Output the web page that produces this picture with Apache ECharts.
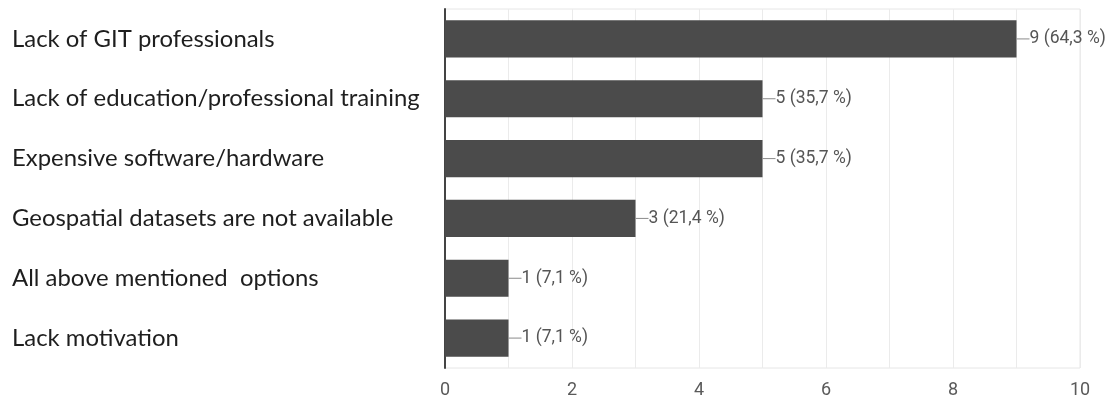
<!DOCTYPE html>
<html>
<head>
<meta charset="utf-8">
<script src="https://cdn.jsdelivr.net/npm/echarts@6/dist/echarts.min.js"></script>
<style>
  html, body { margin: 0; padding: 0; background: #fff; }
  #chart { width: 1115px; height: 403px; }
</style>
</head>
<body>
<div id="chart"></div>
<script>
// Reasons reported, listed top to bottom
const categories = [
  'Lack of GIT professionals',
  'Lack of education/professional training',
  'Expensive software/hardware',
  'Geospatial datasets are not available',
  'All above mentioned  options',
  'Lack motivation'
];
// Number of responses per reason
const counts = [9, 5, 5, 3, 1, 1];
// Share of respondents (%), shown with a decimal comma
const percents = [64.3, 35.7, 35.7, 21.4, 7.1, 7.1];
// Value-axis ticks
const axisMin = 0;
const axisMax = 10;
const axisStep = 2;

const numFont = 'Roboto, sans-serif';

const chart = echarts.init(document.getElementById('chart'), null, { renderer: 'canvas' });

// Category axis runs bottom-up in ECharts, so reverse for top-down order
const yCats = categories.slice().reverse();
const barData = counts.map((v, i) => ({ value: v, pct: percents[i] })).reverse();

chart.setOption({
  animation: false,
  backgroundColor: '#ffffff',
  grid: {
    left: 445, right: 35, top: 9, bottom: 35,
    show: true, borderColor: '#e6e6e6', borderWidth: 1
  },
  xAxis: {
    type: 'value',
    min: axisMin, max: axisMax, interval: axisStep,
    axisLine: { show: false },
    axisTick: { show: false },
    axisLabel: { color: '#5a5a5a', fontFamily: numFont, fontSize: 18, margin: 13 },
    splitLine: { show: true, lineStyle: { color: '#ebebeb', width: 1 } },
    minorTick: { show: false, splitNumber: 2 },
    minorSplitLine: { show: true, lineStyle: { color: '#ebebeb', width: 1 } }
  },
  yAxis: {
    type: 'category',
    data: yCats,
    axisLine: { show: true, lineStyle: { color: '#444', width: 2 } },
    axisTick: { show: false },
    axisLabel: {
      align: 'left', margin: 433,
      color: '#1e1e1e', fontFamily: 'Lato', fontSize: 23.9
    },
    splitLine: { show: false }
  },
  series: [{
    type: 'bar',
    data: barData,
    barCategoryGap: '38%',
    itemStyle: { color: '#4b4b4b' },
    label: {
      show: true,
      position: 'right',
      distance: 0,
      formatter: p => '{dash|}' + p.value + ' (' + p.data.pct.toFixed(1).replace('.', ',') + ' %)',
      color: '#555',
      fontFamily: numFont,
      fontSize: 17.5,
      rich: {
        dash: { width: 13, height: 1, backgroundColor: '#8a8a8a', padding: 0 }
      }
    }
  }]
});
</script>
</body>
</html>
